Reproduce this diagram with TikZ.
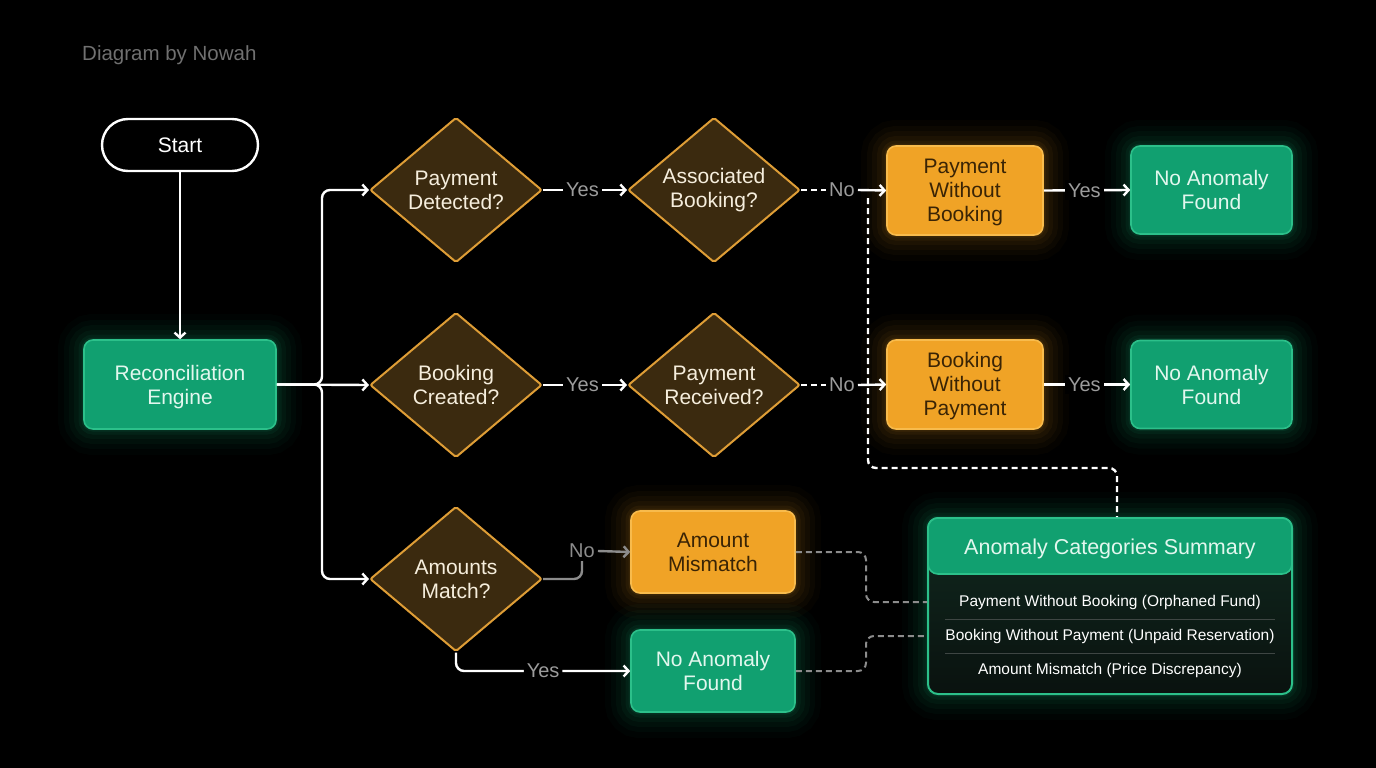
\documentclass[tikz,border=0pt]{standalone}
\usepackage{fontspec}
\setmainfont{Liberation Sans}
\usetikzlibrary{shapes.geometric,arrows.meta,calc}
\definecolor{grn}{HTML}{11A070}
\definecolor{grnb}{HTML}{2CC08A}
\definecolor{grntxt}{HTML}{E2F7EE}
\definecolor{grnglow}{HTML}{1FD394}
\definecolor{org}{HTML}{F0A326}
\definecolor{orgb}{HTML}{F8BB4C}
\definecolor{orgtxt}{HTML}{3A2405}
\definecolor{orgglow}{HTML}{F0A326}
\definecolor{dia}{HTML}{3B2A0F}
\definecolor{diab}{HTML}{DE9D36}
\definecolor{diatxt}{HTML}{F6EEDD}
\definecolor{lblgray}{HTML}{9C9C9C}
\definecolor{credit}{HTML}{707070}
\definecolor{gline}{HTML}{8C8C8C}
\definecolor{sumtop}{HTML}{10291F}
\definecolor{sumbot}{HTML}{0A120F}
\definecolor{sepc}{HTML}{3E4643}
\begin{document}
\begin{tikzpicture}[x=1pt,y=-1pt,
  base/.style={font=\fontsize{21}{24}\selectfont, align=center, inner sep=0pt},
  glow/.style={preaction={draw=#1, draw opacity=0.025, line width=52pt},
               preaction={draw=#1, draw opacity=0.03, line width=40pt},
               preaction={draw=#1, draw opacity=0.035, line width=30pt},
               preaction={draw=#1, draw opacity=0.045, line width=20pt},
               preaction={draw=#1, draw opacity=0.06, line width=11pt},
               preaction={draw=#1, draw opacity=0.08, line width=5pt}},
  greenbox/.style={base, rectangle, rounded corners=9pt, fill=grn, draw=grnb, line width=1.6pt, text=grntxt, glow=grnglow},
  orangebox/.style={base, rectangle, rounded corners=9pt, fill=org, draw=orgb, line width=1.6pt, text=orgtxt, glow=orgglow},
  gtext/.style={base, text=grntxt, yshift=-2.5pt},
  otext/.style={base, text=orgtxt, yshift=-2pt},
  decision/.style={diamond, fill=dia, draw=diab, line width=2pt, minimum width=172pt, minimum height=145pt, inner sep=0pt, rounded corners=2pt},
  dtext/.style={base, text=diatxt},
  startbox/.style={base, rectangle, rounded corners=26pt, draw=white, line width=2.4pt, fill=black, text=white, minimum width=156pt, minimum height=52pt},
  wline/.style={draw=white, line width=2.4pt, -{Straight Barb[length=5pt,width=11pt]}},
  wdashnoarrow/.style={draw=white, line width=2.4pt, dash pattern=on 6pt off 4pt},
  gline/.style={draw=gline, line width=2.4pt},
  garrow/.style={draw=gline, line width=2.4pt, -{Straight Barb[length=5pt,width=11pt]}},
  wdashline/.style={draw=white, line width=2.4pt, dash pattern=on 6pt off 4pt, rounded corners=8pt},
  gdash/.style={draw=gline, line width=2pt, dash pattern=on 6pt off 4pt, rounded corners=8pt},
  lbl/.style={font=\fontsize{20}{22}\selectfont, text=lblgray, fill=black, inner sep=3pt},
  rowtxt/.style={font=\fontsize{15.5}{18}\selectfont, text=white, inner sep=0pt},
  sepline/.style={draw=sepc, line width=1pt}
]
\fill[black] (0,0) rectangle (1376,768);

\node[anchor=west, font=\fontsize{20.5}{22}\selectfont, text=credit, inner sep=0pt] (credit) at (82,55) {Diagram by Nowah};

% nodes
\node[startbox] (start) at (180,145) {Start};
\node[greenbox, minimum width=192pt, minimum height=89pt, label={[gtext]center:Reconciliation\\Engine}] (eng) at (180,384.5) {};

\node[decision, label={[dtext]center:Payment\\Detected?}] (pd) at (456,190) {};
\node[decision, label={[dtext]center:Booking\\Created?}] (bc) at (456,385) {};
\node[decision, label={[dtext]center:Amounts\\Match?}] (amd) at (456,579) {};
\node[decision, label={[dtext]center:Associated\\Booking?}] (ab) at (714,190) {};
\node[decision, label={[dtext]center:Payment\\Received?}] (pr) at (714,385) {};

\node[orangebox, minimum width=156pt, minimum height=89pt, label={[otext]center:Payment\\Without\\Booking}] (pwb) at (965,190.5) {};
\node[orangebox, minimum width=156pt, minimum height=89pt, label={[otext]center:Booking\\Without\\Payment}] (bwp) at (965,384.5) {};
\node[greenbox, minimum width=161pt, minimum height=88pt] (naf1) at (1211.5,190) {No Anomaly\\Found};
\node[greenbox, minimum width=161pt, minimum height=88pt] (naf2) at (1211.5,384.5) {No Anomaly\\Found};
\node[orangebox, minimum width=164pt, minimum height=82pt] (am) at (713,552) {Amount\\Mismatch};
\node[greenbox, minimum width=164pt, minimum height=82pt] (naf3) at (713,671) {No Anomaly\\Found};

% summary
\node[rectangle, rounded corners=10pt, top color=sumtop, bottom color=sumbot, draw=grnb, line width=2pt, glow=grnglow, minimum width=364pt, minimum height=176pt, inner sep=0pt] (sum) at (1110,606) {};
\node[rectangle, rounded corners=10pt, fill=grn, draw=grnb, line width=1.6pt, minimum width=364pt, minimum height=56pt, inner sep=0pt, label={[gtext, font=\fontsize{21.5}{24}\selectfont]center:Anomaly Categories Summary}] (sumh) at (1110,546) {};
\node[rowtxt] (r1) at (1110,602) {Payment Without Booking (Orphaned Fund)};
\node[rowtxt] (r2) at (1110,636) {Booking Without Payment (Unpaid Reservation)};
\node[rowtxt] (r3) at (1110,670) {Amount Mismatch (Price Discrepancy)};
\draw[sepline] (945,619) -- (1275,619);
\draw[sepline] (945,653) -- (1275,653);

% dashed feedback to summary
\coordinate (d0) at (868,198);
\coordinate (d1) at (1117,468);
\draw[wdashline] (d0) |- (d1) -- (d1 |- sumh.north);

\coordinate (m1) at (866,602);
\coordinate (m2) at (866,636);
\draw[gdash] (am.east) -| (m1) -- (m1 -| sum.west);
\draw[gdash] (naf3.east) -| (m2) -- (m2 -| sum.west);

% main connectors
\draw[wline] (start.south) -- (eng.north);
\coordinate (t1) at (322,190);
\coordinate (t3) at (322,579);
\draw[wline, rounded corners=8pt] (eng.east) -| (t1) -- (pd.west);
\draw[wline] (eng.east) -- (bc.west);
\draw[wline, rounded corners=8pt] (eng.east) -| (t3) -- (amd.west);

\draw[wline] (pd.east) -- (ab.west) node[lbl, pos=0.47] {Yes};
\draw[wline] (bc.east) -- (pr.west) node[lbl, pos=0.47] {Yes};

\node[lbl] (no1) at (842,190) {No};
\draw[wdashnoarrow] (ab.east) -- (no1.west);
\draw[wline] (no1.east) -- (pwb.west);
\node[lbl] (no2) at (842,385) {No};
\draw[wdashnoarrow] (pr.east) -- (no2.west);
\draw[wline] (no2.east) -- (bwp.west);

\draw[wline] (pwb.east) -- (naf1.west) node[lbl, pos=0.47] {Yes};
\draw[wline] (bwp.east) -- (naf2.west) node[lbl, pos=0.47] {Yes};

\node[lbl, text=gline] (nol) at (582,551) {No};
\draw[gline, rounded corners=8pt] (amd.east) -| (nol.south);
\draw[garrow] (nol.east) -- (am.west);

\draw[wline, rounded corners=8pt] (amd.south) |- (naf3.west) node[lbl, pos=0.75] {Yes};
\end{tikzpicture}
\end{document}
